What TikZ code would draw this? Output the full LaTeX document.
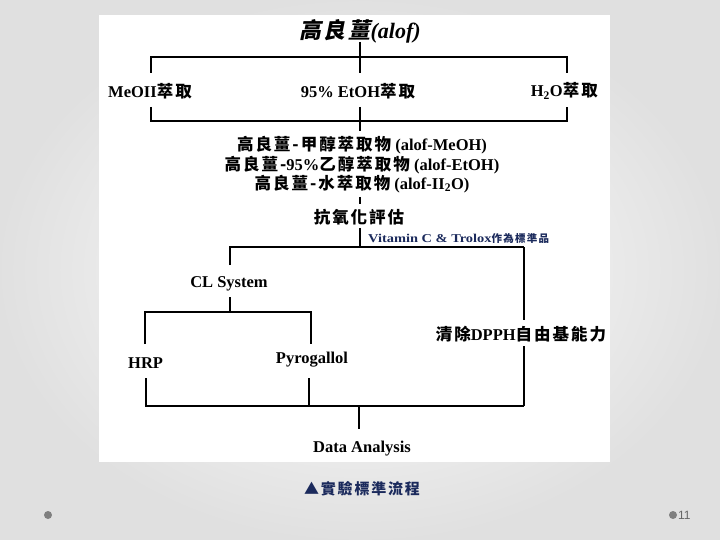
\documentclass[tikz,border=0pt]{standalone}
\usepackage{fontspec}
\setmainfont{Liberation Serif}
\newfontfamily\zhfont[LetterSpace=12]{Noto Sans CJK TC}
\newfontfamily\zhtitle[LetterSpace=12,FakeSlant=0.2]{Noto Sans CJK TC}
\newfontfamily\slidesans{Liberation Sans}
\newcommand\zh[1]{{\zhfont #1}}
\definecolor{navy}{HTML}{1B2A5C}
\definecolor{dotgray}{HTML}{7F7F7F}
\begin{document}
\begin{tikzpicture}[x=1bp,y=-1bp,
  lbl/.style={font=\fontsize{16.5bp}{20bp}\selectfont\bfseries, inner sep=0pt},
  conn/.style={line width=1.5bp, black},
  fdot/.style={fill=dotgray, draw=none}]
\useasboundingbox (0,0) rectangle (720,540);
% slide background
\shade[inner color=white, outer color=black!12] (0,0) rectangle (720,540);
\fill[white] (99,15) rectangle (610,462);

% title
\node[lbl, font=\fontsize{22bp}{26bp}\selectfont\bfseries] (t) at (360,31) {{\zhtitle 高良薑}\textit{(alof)}};
\coordinate (t0) at (360,42);
\coordinate (tj) at (360,57);
\coordinate (t1) at (360,73);
\coordinate (aL) at (151,57);
\coordinate (aR) at (567,57);
\coordinate (aLb) at (151,73);
\coordinate (aRb) at (567,73);
\draw[conn] (t0) -- (t1);
\draw[conn] (aLb) -- (aL) -- (aR) -- (aRb);

% extraction row
\node[lbl, anchor=west] (m) at (108,91) {MeOII\zh{萃取}};
\node[lbl] (e) at (358,91) {95\% EtOH\zh{萃取}};
\node[lbl, anchor=east] (h) at (598,91) {H\textsubscript{2}O\zh{萃取}};
\coordinate (bL) at (151,107);
\coordinate (bR) at (567,107);
\coordinate (bC) at (360,107);
\coordinate (bLb) at (151,121);
\coordinate (bRb) at (567,121);
\coordinate (bCb) at (360,131);
\draw[conn] (bL) -- (bLb) -- (bRb) -- (bR);
\draw[conn] (bC) -- (bCb);

% extracts
\node[lbl] (x1) at (362,145) {\zh{高良薑-甲醇萃取物} (alof-MeOH)};
\node[lbl] (x2) at (362,165) {\zh{高良薑-}95\%\zh{乙醇萃取物} (alof-EtOH)};
\node[lbl] (x3) at (362,184) {\zh{高良薑-水萃取物} (alof-II\textsubscript{2}O)};
\coordinate (s0) at (360,197);
\coordinate (s1) at (360,204);
\draw[conn] (s0) -- (s1);

\node[lbl] (ao) at (359,217) {\zh{抗氧化評估}};
\coordinate (ao0) at (360,228);
\coordinate (ao1) at (360,247);
\draw[conn] (ao0) -- (ao1);
\node[inner sep=0pt, anchor=west, text=navy, font=\fontsize{12bp}{14bp}\selectfont\bfseries] (vc) at (368,238)
  {\scalebox{1.2}[1]{Vitamin C \& Trolox}{\fontsize{10.5bp}{12bp}\zhfont 作為標準品}};

\coordinate (cL) at (230,247);
\coordinate (cR) at (524,247);
\coordinate (cLb) at (230,265);
\draw[conn] (cLb) -- (cL) -- (cR);

% CL system branch
\node[lbl] (cl) at (229,284) {CL System};
\coordinate (cl0) at (230,297);
\coordinate (cl1) at (230,312);
\coordinate (dL) at (145,312);
\coordinate (dR) at (311,312);
\coordinate (dLb) at (145,344);
\coordinate (dRb) at (311,344);
\draw[conn] (cl0) -- (cl1);
\draw[conn] (dLb) -- (dL) -- (dR) -- (dRb);
\node[lbl, anchor=west] (hrp) at (128,363) {HRP};
\node[lbl] (py) at (312,360) {Pyrogallol};

% DPPH branch
\coordinate (cRb) at (524,320);
\draw[conn] (cR) -- (cRb);
\node[lbl] (dp) at (521,334) {\zh{清除}DPPH\zh{自由基能力}};
\coordinate (dp0) at (524,346);
\coordinate (eR) at (524,406);
\draw[conn] (dp0) -- (eR);

% merge
\coordinate (hr0) at (146,378);
\coordinate (eL) at (146,406);
\coordinate (py0) at (309,378);
\coordinate (eP) at (309,406);
\coordinate (eC) at (359,406);
\coordinate (eCb) at (359,429);
\draw[conn] (hr0) -- (eL) -- (eR);
\draw[conn] (py0) -- (eP);
\draw[conn] (eC) -- (eCb);
\node[lbl] (da) at (362,449) {Data Analysis};

% caption and footer
\node[inner sep=0pt, text=navy, font=\fontsize{15bp}{18bp}\selectfont\bfseries] (cap) at (362,489) {\zh{▲實驗標準流程}};
\fill[fdot] (48,515) circle (4);
\fill[fdot] (673,515) circle (4);
\node[inner sep=0pt, anchor=west, text=black!60, font=\fontsize{12bp}{14bp}\selectfont\slidesans] (pg) at (678,515) {11};
\end{tikzpicture}
\end{document}
